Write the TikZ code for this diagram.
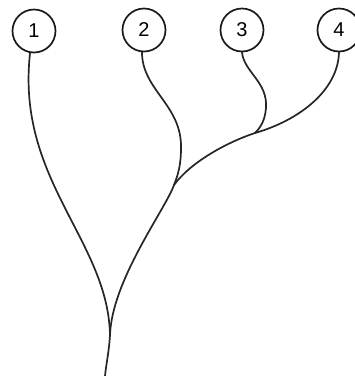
\documentclass[tikz,border=0pt]{standalone}
\usepackage{fontspec}
\setmainfont{Liberation Sans}
\begin{document}
\begin{tikzpicture}[x=1pt,y=-1pt,
  taxon/.style={circle,draw=black!90,line width=1.7pt,minimum size=43pt,inner sep=0pt,font=\fontsize{20}{20}\selectfont},
  branch/.style={draw=black!85,line width=1.7pt,line cap=round}]
\useasboundingbox (0,0) rectangle (355,376);
\clip (0,0) rectangle (355,376);
\fill[white] (0,0) rectangle (355,376);
\node[taxon] (c1) at (34,31) {1};
\node[taxon] (c2) at (144,30) {2};
\node[taxon] (c3) at (242,30) {3};
\node[taxon] (c4) at (339,30) {4};
\coordinate (j1) at (110,335);
\coordinate (j2) at (174,185);
\coordinate (j3) at (255,133);
\coordinate (m3) at (266,108);
\coordinate (m2) at (181,148);
\coordinate (base) at (105,376);
% branch 1
\draw[branch] ([xshift=-4pt]c1.south) .. controls (16,180) and (108,240) .. (j1);
% branch 2
\draw[branch] ([xshift=-2pt]c2.south) .. controls (142,90) and (182,105) .. (m2)
  .. controls (181,165) and (178,175) .. (j2);
\draw[branch] (j2) .. controls (165,210) and (112,280) .. (j1);
% branch 4
\draw[branch] (c4.south) .. controls (338,90) and (300,120) .. (j3);
\draw[branch] (j3) .. controls (225,143) and (190,163) .. (j2);
% branch 3
\draw[branch] (c3.south) .. controls (244,72) and (268,82) .. (m3)
  .. controls (265,120) and (261,127) .. (j3);
% root
\draw[branch] (j1) .. controls (109,352) and (106,365) .. (base);
\end{tikzpicture}
\end{document}
